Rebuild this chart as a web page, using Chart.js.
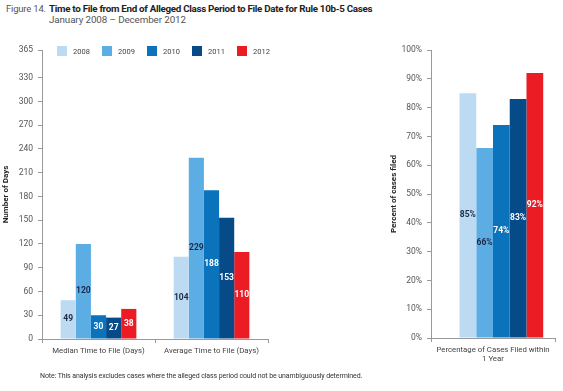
<!DOCTYPE html>
<html>
<head>
<meta charset="utf-8">
<script src="https://cdn.jsdelivr.net/npm/chart.js@4.4.0/dist/chart.umd.min.js"></script>
<style>
  body { margin: 0; background: #fff; font-family: Roboto, "Open Sans", sans-serif; }
  #page { position: relative; width: 563px; height: 391px; overflow: hidden; }
  .hdr { position: absolute; white-space: nowrap; color: #333; }
  #fig { left: 6px; top: 3px; font-size: 9.5px; color: #555; letter-spacing: -0.2px; }
  #title { left: 49px; top: 3px; font-size: 9.8px; font-weight: bold; letter-spacing: -0.3px; color: #222; }
  #sub { left: 49px; top: 14px; font-size: 9.8px; color: #555; letter-spacing: -0.1px; }
  #note { left: 40px; top: 372px; font-size: 7px; color: #333; letter-spacing: -0.1px; }
  #legend { position: absolute; left: 57px; top: 46px; display: flex; font-size: 7.5px; color: #444; }
  #legend .item { display: flex; align-items: center; width: 45px; }
  #legend .sw { width: 10px; height: 10px; margin-right: 6px; }
  canvas { position: absolute; top: 0; }
  #left { left: 0; }
  #right { left: 378px; }
</style>
</head>
<body>
<div id="page">
  <div class="hdr" id="fig">Figure 14.</div>
  <div class="hdr" id="title">Time to File from End of Alleged Class Period to File Date for Rule 10b-5 Cases</div>
  <div class="hdr" id="sub">January 2008 – December 2012</div>
  <canvas id="left" width="280" height="375"></canvas>
  <canvas id="right" width="185" height="375"></canvas>
  <div id="legend"></div>
  <div class="hdr" id="note">Note: This analysis excludes cases where the alleged class period could not be unambiguously determined.</div>
</div>
<script>
// --- Data ---
const years = ['2008', '2009', '2010', '2011', '2012'];
const dayCategories = ['Median Time to File (Days)', 'Average Time to File (Days)'];
const medianDays = [49, 120, 30, 27, 38];
const averageDays = [104, 229, 188, 153, 110];
const dayTicks = [0, 30, 60, 90, 120, 150, 180, 210, 240, 270, 300, 330, 365];
const pctCategory = [['Percentage of Cases Filed within', '1 Year']];
const pctFiled = [85, 66, 74, 83, 92];
const pctTicks = [0, 10, 20, 30, 40, 50, 60, 70, 80, 90, 100];

const yearColors = ['#bcdaf1', '#5badE3', '#0a73bb', '#074a88', '#ec1c24'];
const valueColors = ['#1b2a48', '#1b2a48', '#ffffff', '#ffffff', '#ffffff'];
const FONT = 'Roboto';

// --- Legend ---
const legendEl = document.getElementById('legend');
years.forEach((y, i) => {
    const item = document.createElement('div');
    item.className = 'item';
    item.innerHTML = `<span class="sw" style="background:${yearColors[i]}"></span>${y}`;
    legendEl.appendChild(item);
});

// --- Value labels drawn in the middle of each bar ---
const barLabels = {
    id: 'barLabels',
    afterDatasetsDraw(chart, args, opts) {
        const ctx = chart.ctx;
        chart.data.datasets.forEach((ds, i) => {
            if (!ds.valueColor) return;
            chart.getDatasetMeta(i).data.forEach((bar, j) => {
                const v = ds.data[j];
                if (v == null) return;
                ctx.save();
                ctx.font = `bold 8.5px ${FONT}`;
                ctx.fillStyle = ds.valueColor;
                ctx.textAlign = 'center';
                ctx.textBaseline = 'middle';
                ctx.fillText(v + (opts.suffix || ''), bar.x, (bar.y + bar.base) / 2);
                ctx.restore();
            });
        });
    }
};

function axisOpts(yTicks, yMax, yTitle, yWidth, fmt, titlePad) {
    return {
        x: {
            offset: true,
            grid: { display: true, drawOnChartArea: false, tickLength: 4, color: '#999', offset: true },
            border: { color: '#999' },
            ticks: { color: '#444', font: { family: FONT, size: 7.8 }, padding: 3, maxRotation: 0, autoSkip: false },
            afterFit: s => { s.height = 30; }
        },
        y: {
            min: 0, max: yMax,
            grid: { display: true, drawOnChartArea: false, tickLength: 4, color: '#999' },
            border: { color: '#999' },
            afterBuildTicks: s => { s.ticks = yTicks.map(v => ({ value: v })); },
            ticks: { color: '#555', font: { family: FONT, size: 8.5 }, padding: 5, callback: fmt },
            title: { display: true, text: yTitle, color: '#222', font: { family: FONT, size: 8, weight: 'bold' }, padding: { top: titlePad, bottom: 0 } },
            afterFit: s => { s.width = yWidth; }
        }
    };
}

// --- Left chart: days ---
new Chart(document.getElementById('left'), {
    type: 'bar',
    data: {
        labels: dayCategories,
        datasets: years.map((y, i) => ({
            label: y,
            data: [medianDays[i], averageDays[i]],
            backgroundColor: yearColors[i],
            valueColor: valueColors[i],
            categoryPercentage: 0.67,
            barPercentage: 1
        }))
    },
    options: {
        responsive: false,
        animation: false,
        layout: { padding: { top: 50, right: 12, bottom: 6, left: 0 } },
        plugins: { legend: { display: false }, tooltip: { enabled: false }, barLabels: {} },
        scales: axisOpts(dayTicks, 365, 'Number of Days', 42, v => v, 1)
    },
    plugins: [barLabels]
});

// --- Right chart: percent filed within 1 year ---
const pctSets = years.map((y, i) => ({
    label: y,
    data: [pctFiled[i]],
    backgroundColor: yearColors[i],
    valueColor: valueColors[i],
    categoryPercentage: 0.81,
    barPercentage: 1
}));
// empty slot that keeps the bar group right of centre, as in the original
pctSets.unshift({ label: '', data: [null], backgroundColor: 'rgba(0,0,0,0)', categoryPercentage: 0.81, barPercentage: 1 });

new Chart(document.getElementById('right'), {
    type: 'bar',
    data: { labels: pctCategory, datasets: pctSets },
    options: {
        responsive: false,
        animation: false,
        layout: { padding: { top: 50, right: 8, bottom: 7, left: 0 } },
        plugins: { legend: { display: false }, tooltip: { enabled: false }, barLabels: { suffix: '%' } },
        scales: axisOpts(pctTicks, 100, 'Percent of cases filed', 53, v => v + '%', 11)
    },
    plugins: [barLabels]
});
</script>
</body>
</html>
